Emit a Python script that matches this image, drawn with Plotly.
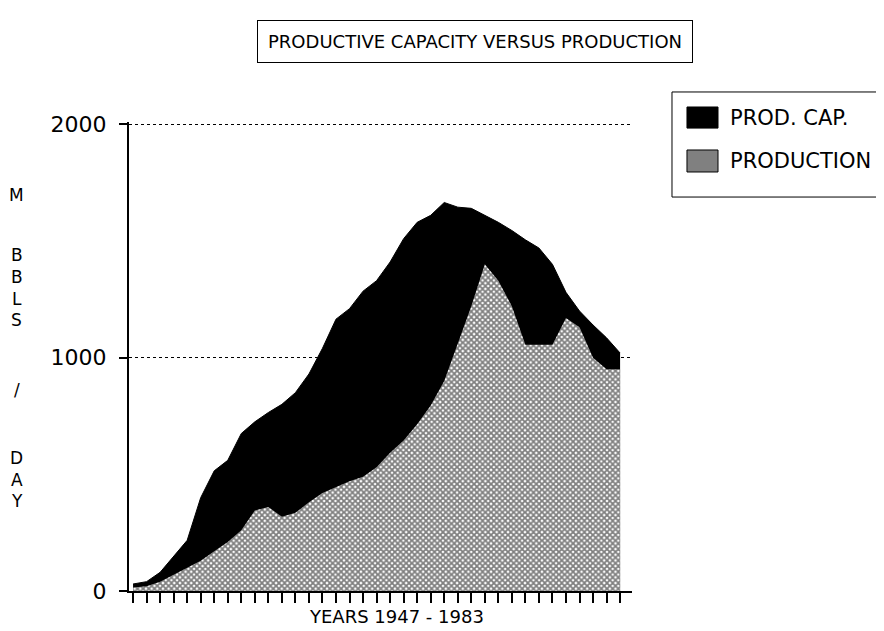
import plotly.graph_objects as go

years = [1947, 1948, 1949, 1950, 1951, 1952, 1953, 1954, 1955, 1956,
         1957, 1958, 1959, 1960, 1961, 1962, 1963, 1964, 1965, 1966,
         1967, 1968, 1969, 1970, 1971, 1972, 1973, 1974, 1975, 1976,
         1977, 1978, 1979, 1980, 1981, 1982, 1983]

prod_capacity = [30, 40, 80, 150, 217, 400, 515, 560, 675, 725,
                 765, 800, 850, 930, 1040, 1165, 1210, 1285, 1330, 1410,
                 1510, 1580, 1610, 1665, 1645, 1640, 1610, 1580, 1545, 1505,
                 1470, 1400, 1280, 1200, 1140, 1085, 1020]

production = [15, 20, 40, 70, 100, 130, 170, 210, 260, 345,
              360, 318, 335, 380, 420, 445, 470, 490, 530, 593,
              645, 715, 795, 900, 1060, 1220, 1400, 1330, 1220, 1055,
              1055, 1055, 1170, 1130, 1000, 950, 950]

y_ticks = [0, 1000, 2000]
y_tick_labels = ["0", "1000", "2000"]

title_text = "PRODUCTIVE CAPACITY VERSUS PRODUCTION"
x_title = "YEARS 1947 - 1983"
y_title_chars = ["M", "B", "B", "L", "S", "/", "D", "A", "Y"]
y_title_pos = [0.845, 0.717, 0.670, 0.623, 0.578, 0.428, 0.284, 0.237, 0.192]

legend_names = ["PROD. CAP.", "PRODUCTION"]
legend_colors = ["black", "#808080"]

FONT = "DejaVu Sans"

fig = go.Figure()
fig.add_trace(go.Scatter(
    x=years, y=prod_capacity, name=legend_names[0], mode="lines",
    fill="tozeroy", fillcolor="black",
    line=dict(color="black", width=1),
))
fig.add_trace(go.Scatter(
    x=years, y=production, name=legend_names[1], mode="lines",
    fill="tozeroy",
    fillpattern=dict(shape="x", size=4, solidity=0.7,
                     fgcolor="black", bgcolor="white"),
    line=dict(color="rgba(0,0,0,0)", width=0),
))

annotations = [
    dict(text=title_text, x=0.688, y=1.1706, xref="paper", yref="paper",
         xanchor="center", yanchor="middle",
         showarrow=False, font=dict(family=FONT, size=18, color="black"),
         bordercolor="black", borderwidth=1, borderpad=10, bgcolor="white"),
    dict(text=x_title, x=0.531, y=-0.0554, xref="paper", yref="paper",
         xanchor="center", yanchor="middle",
         showarrow=False, font=dict(family=FONT, size=18, color="black")),
]
for ch, yp in zip(y_title_chars, y_title_pos):
    annotations.append(dict(text=ch, x=-0.223, y=yp, xref="paper", yref="paper",
                            showarrow=False, xanchor="center", yanchor="middle",
                            font=dict(family=FONT, size=17, color="black")))

# manual legend (box, swatches, labels)
shapes = [
    dict(type="rect", xref="paper", yref="paper", x0=1.0795, x1=1.53,
         y0=0.840, y1=1.064, line=dict(color="black", width=1),
         fillcolor="white", layer="above"),
]
sw_y = [(0.987, 1.032), (0.8934, 0.9403)]
txt_y = [1.0085, 0.9168]
for name, col, (y0, y1), ty in zip(legend_names, legend_colors, sw_y, txt_y):
    shapes.append(dict(type="rect", xref="paper", yref="paper",
                       x0=1.1093, x1=1.1710, y0=y0, y1=y1,
                       line=dict(color="black", width=1), fillcolor=col,
                       layer="above"))
    annotations.append(dict(text=name, x=1.1909, y=ty, xref="paper", yref="paper",
                            xanchor="left", yanchor="middle", showarrow=False,
                            font=dict(family=FONT, size=21, color="black")))

fig.update_layout(
    width=876, height=623,
    margin=dict(l=121, r=252, t=114, b=40),
    paper_bgcolor="white", plot_bgcolor="white",
    font=dict(family=FONT, color="black"),
    showlegend=False,
    annotations=annotations,
    shapes=shapes,
    xaxis=dict(range=[1946.7, 1983.88], tickvals=years, showticklabels=False,
               ticks="outside", ticklen=10, tickwidth=2, tickcolor="black",
               showline=True, linewidth=2, linecolor="black",
               showgrid=False, zeroline=False, fixedrange=True),
    yaxis=dict(range=[0, 2010], tickvals=y_ticks, ticktext=y_tick_labels,
               ticks="outside", ticklen=8, tickwidth=2, tickcolor="black",
               ticklabelstandoff=8,
               tickfont=dict(family=FONT, size=22, color="black"),
               showline=True, linewidth=2, linecolor="black",
               showgrid=True, gridcolor="black", gridwidth=1, griddash="dot",
               zeroline=False, fixedrange=True),
)

fig.write_html("out.html")
